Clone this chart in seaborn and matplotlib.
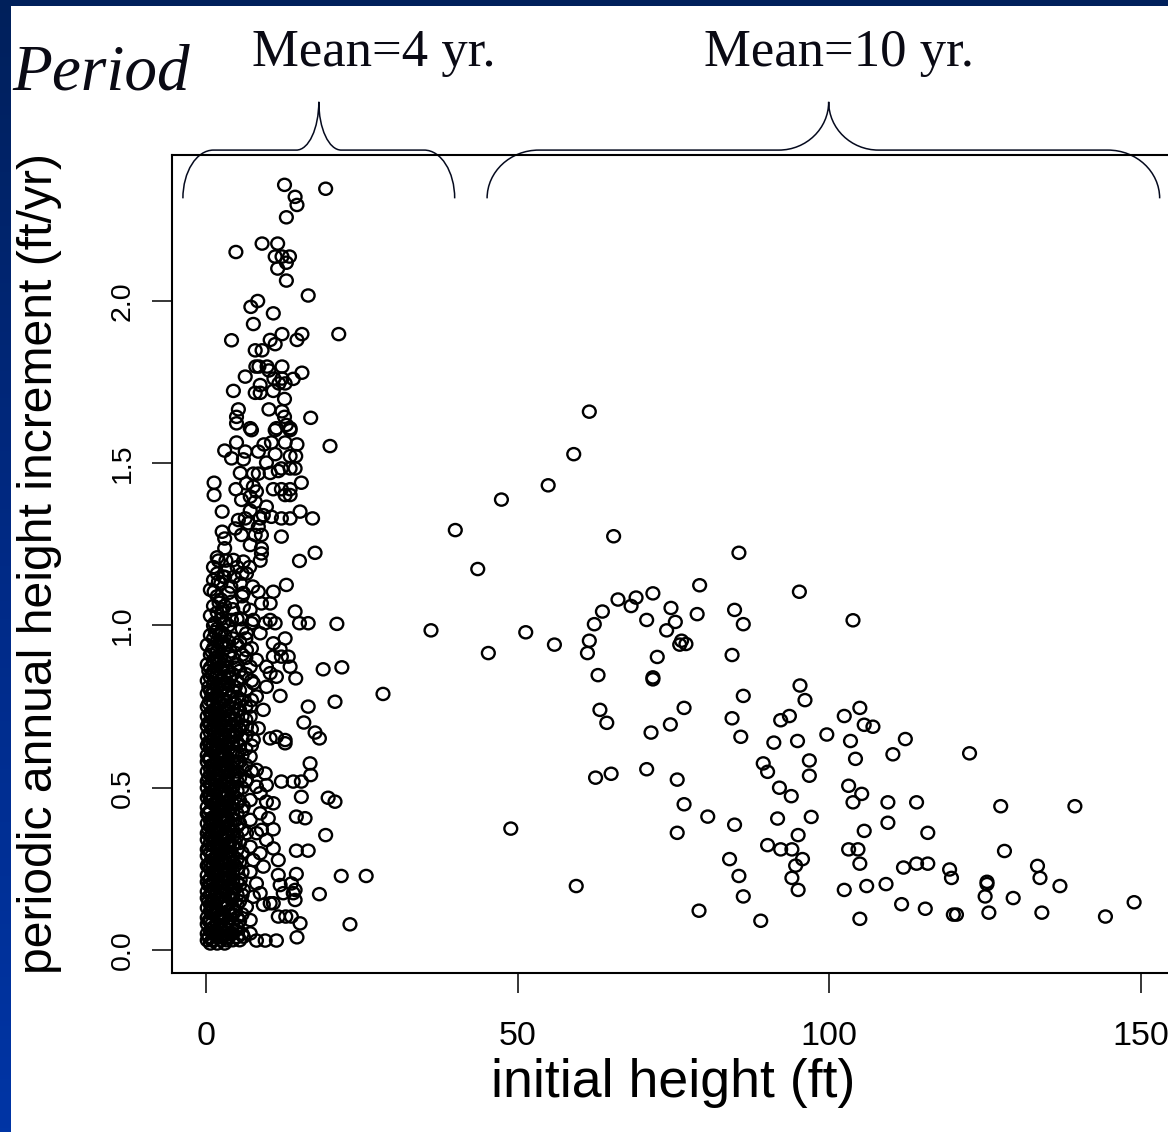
import numpy as np
import pandas as pd
import matplotlib
matplotlib.use("Agg")
import matplotlib.pyplot as plt
import matplotlib.transforms as mtransforms
import seaborn as sns
from matplotlib.path import Path
from matplotlib.patches import PathPatch, Rectangle
from matplotlib.markers import MarkerStyle
from matplotlib.colors import LinearSegmentedColormap

# 1. DATA
# dense core of the 4-yr period trees: one list of increments per height column
core_heights = [0.2, 0.45, 0.7, 0.95, 1.2, 1.5, 1.8, 2.1, 2.4, 2.7, 3.0, 3.3, 3.6, 3.9, 4.3,
                4.7, 5.0, 5.4, 5.8, 6.4, 7.3]
core_increments = [
    [0.03, 0.05, 0.08, 0.10, 0.13, 0.16, 0.18, 0.21, 0.23, 0.26, 0.29, 0.31, 0.34, 0.36, 0.39, 0.42,
     0.44, 0.47, 0.50, 0.52, 0.55, 0.58, 0.60, 0.63, 0.66, 0.69, 0.72, 0.75, 0.79, 0.83, 0.88, 0.94],
    [0.04, 0.09, 0.15, 0.20, 0.26, 0.31, 0.37, 0.42, 0.48, 0.53, 0.59, 0.64, 0.70, 0.76, 0.81, 0.86],
    [0.02, 0.06, 0.09, 0.12, 0.14, 0.17, 0.20, 0.22, 0.25, 0.27, 0.30, 0.33, 0.35, 0.38, 0.40, 0.43,
     0.46, 0.48, 0.51, 0.54, 0.56, 0.59, 0.62, 0.64, 0.67, 0.70, 0.73, 0.77, 0.80, 0.84, 0.87, 0.91,
     0.97, 1.03, 1.11],
    [0.03, 0.08, 0.13, 0.18, 0.24, 0.29, 0.35, 0.40, 0.46, 0.51, 0.57, 0.62, 0.68, 0.73, 0.79, 0.85,
     0.92],
    [0.03, 0.05, 0.07, 0.11, 0.13, 0.15, 0.19, 0.21, 0.24, 0.26, 0.28, 0.32, 0.34, 0.37, 0.39, 0.41,
     0.45, 0.47, 0.49, 0.53, 0.55, 0.57, 0.61, 0.63, 0.65, 0.68, 0.71, 0.74, 0.76, 0.79, 0.82, 0.86,
     0.89, 0.93, 0.96, 1.00, 1.06, 1.14, 1.18],
    [0.06, 0.12, 0.17, 0.23, 0.28, 0.34, 0.40, 0.45, 0.51, 0.56, 0.62, 0.67, 0.73, 0.78, 0.84, 0.90,
     0.98],
    [0.02, 0.04, 0.08, 0.10, 0.12, 0.16, 0.18, 0.20, 0.23, 0.25, 0.29, 0.31, 0.33, 0.36, 0.38, 0.42,
     0.44, 0.46, 0.50, 0.52, 0.54, 0.58, 0.60, 0.62, 0.66, 0.69, 0.72, 0.75, 0.78, 0.81, 0.85, 0.88,
     0.92, 0.95, 0.99, 1.04, 1.09, 1.16, 1.21],
    [0.05, 0.10, 0.16, 0.21, 0.26, 0.32, 0.37, 0.43, 0.48, 0.54, 0.59, 0.65, 0.70, 0.76, 0.82, 0.89,
     0.97, 1.07],
    [0.03, 0.06, 0.09, 0.11, 0.14, 0.17, 0.19, 0.22, 0.24, 0.27, 0.30, 0.32, 0.35, 0.37, 0.40, 0.43,
     0.45, 0.48, 0.51, 0.53, 0.56, 0.59, 0.61, 0.64, 0.67, 0.70, 0.73, 0.76, 0.80, 0.83, 0.87, 0.90,
     0.94, 0.98, 1.02, 1.08, 1.13],
    [0.04, 0.10, 0.15, 0.21, 0.27, 0.32, 0.38, 0.44, 0.49, 0.55, 0.60, 0.66, 0.71, 0.77, 0.82, 0.88,
     0.95, 1.05],
    [0.02, 0.05, 0.07, 0.10, 0.13, 0.15, 0.18, 0.21, 0.23, 0.26, 0.28, 0.31, 0.34, 0.36, 0.39, 0.41,
     0.44, 0.47, 0.49, 0.52, 0.55, 0.57, 0.60, 0.63, 0.65, 0.68, 0.71, 0.74, 0.77, 0.81, 0.84, 0.89,
     0.93, 0.97, 1.01, 1.06, 1.15],
    [0.03, 0.08, 0.14, 0.19, 0.25, 0.30, 0.36, 0.41, 0.47, 0.52, 0.58, 0.63, 0.69, 0.74, 0.80, 0.87,
     0.94],
    [0.04, 0.06, 0.09, 0.12, 0.14, 0.17, 0.20, 0.22, 0.25, 0.28, 0.30, 0.33, 0.35, 0.38, 0.40, 0.43,
     0.46, 0.48, 0.51, 0.54, 0.56, 0.59, 0.62, 0.64, 0.67, 0.70, 0.72, 0.75, 0.79, 0.82, 0.86, 0.91,
     0.95, 1.00, 1.10],
    [0.05, 0.11, 0.16, 0.22, 0.27, 0.33, 0.39, 0.44, 0.50, 0.55, 0.61, 0.66, 0.72, 0.78, 0.84, 0.92],
    [0.03, 0.05, 0.08, 0.11, 0.13, 0.16, 0.19, 0.21, 0.24, 0.27, 0.29, 0.32, 0.35, 0.37, 0.40, 0.42,
     0.45, 0.48, 0.50, 0.53, 0.56, 0.58, 0.61, 0.64, 0.66, 0.69, 0.73, 0.76, 0.80, 0.85, 0.90, 0.96,
     1.05],
    [0.06, 0.12, 0.19, 0.26, 0.33, 0.40, 0.47, 0.54, 0.60, 0.66, 0.71, 0.76, 0.81, 0.87],
    [0.04, 0.07, 0.10, 0.14, 0.17, 0.21, 0.25, 0.28, 0.31, 0.35, 0.38, 0.42, 0.45, 0.49, 0.52, 0.55,
     0.58, 0.61, 0.64, 0.67, 0.70, 0.74, 0.78, 0.83, 0.88, 0.94, 1.02],
    [0.03, 0.09, 0.15, 0.20, 0.27, 0.33, 0.39, 0.46, 0.53, 0.58, 0.63, 0.68, 0.74, 0.80, 0.86, 0.95],
    [0.05, 0.11, 0.17, 0.24, 0.30, 0.37, 0.43, 0.50, 0.56, 0.60, 0.65, 0.69, 0.72, 0.77, 0.84, 0.91,
     0.99, 1.09],
    [0.52, 0.57, 0.62, 0.66, 0.71, 0.75, 0.80, 0.85, 0.90, 0.96],
    [0.55, 0.63, 0.68, 0.77, 0.83, 0.93],
]

# scattered 4-yr period trees (initial height ft, increment ft/yr)
small_trees = [
    (12.6, 2.358), (19.2, 2.346), (14.3, 2.321), (14.6, 2.296), (12.9, 2.258), (9.0, 2.177),
    (11.5, 2.177), (4.8, 2.151), (11.1, 2.137), (12.2, 2.137), (13.4, 2.137), (12.9, 2.118),
    (11.5, 2.100), (12.9, 2.063), (16.4, 2.017), (8.3, 2.000), (7.2, 1.982), (10.8, 1.962),
    (7.6, 1.929), (4.1, 1.879), (10.3, 1.880), (11.1, 1.867), (12.2, 1.898), (15.4, 1.898),
    (14.6, 1.880), (21.3, 1.898), (7.9, 1.848), (9.0, 1.848), (8.0, 1.798), (8.5, 1.798),
    (9.8, 1.798), (12.2, 1.798), (6.3, 1.767), (10.1, 1.786), (10.9, 1.761), (12.2, 1.761),
    (14.0, 1.760), (15.4, 1.779), (11.7, 1.746), (12.7, 1.746), (4.4, 1.723), (7.9, 1.717),
    (8.7, 1.717), (8.7, 1.741), (10.8, 1.723), (12.6, 1.698), (5.2, 1.666), (10.1, 1.666),
    (12.2, 1.660), (4.9, 1.643), (12.6, 1.643), (16.8, 1.640), (4.9, 1.623), (7.1, 1.608),
    (11.3, 1.608), (12.9, 1.618), (13.5, 1.608), (7.3, 1.602), (11.1, 1.602), (13.5, 1.602),
    (4.9, 1.564), (9.3, 1.558), (10.5, 1.564), (12.7, 1.564), (14.6, 1.558), (19.9, 1.553),
    (3.0, 1.539), (6.3, 1.536), (8.4, 1.536), (11.1, 1.528), (13.5, 1.522), (14.4, 1.522),
    (4.1, 1.515), (6.0, 1.512), (9.7, 1.502), (12.1, 1.484), (13.5, 1.484), (14.3, 1.484),
    (5.5, 1.470), (7.6, 1.468), (8.4, 1.468), (10.3, 1.470), (11.6, 1.476), (1.3, 1.440),
    (6.5, 1.438), (7.6, 1.428), (15.3, 1.440), (1.3, 1.402), (4.8, 1.420), (8.1, 1.413),
    (7.1, 1.397), (10.8, 1.420), (12.1, 1.420), (13.5, 1.420), (12.7, 1.402), (13.5, 1.402),
    (5.7, 1.387), (7.9, 1.381), (9.7, 1.366), (2.6, 1.351), (7.1, 1.354), (10.5, 1.335),
    (12.1, 1.330), (13.5, 1.330), (15.1, 1.351), (17.1, 1.330), (5.2, 1.325), (6.3, 1.330),
    (8.7, 1.330), (9.2, 1.340), (4.7, 1.299), (6.8, 1.315), (8.4, 1.304), (2.6, 1.289),
    (3.0, 1.268), (5.7, 1.279), (7.9, 1.279), (8.9, 1.279), (12.1, 1.274), (3.0, 1.238),
    (7.1, 1.248), (8.9, 1.238), (8.9, 1.222), (17.5, 1.224), (2.0, 1.200), (4.4, 1.202),
    (6.0, 1.197), (8.7, 1.200), (15.0, 1.199), (3.5, 1.17), (4.5, 1.15), (5.5, 1.13),
    (6.5, 1.16), (7.5, 1.12), (4.0, 1.12), (6.0, 1.10), (5.0, 1.18), (7.0, 1.18), (3.2, 1.20),
    (5.8, 1.16), (2.8, 1.15), (12.9, 1.125), (10.8, 1.104), (1.3, 1.104), (2.0, 1.135),
    (8.4, 1.104), (4.1, 1.073), (6.0, 1.058), (8.9, 1.068), (10.3, 1.068), (14.3, 1.043),
    (2.5, 1.040), (1.4, 1.007), (2.8, 1.007), (4.1, 1.017), (5.7, 1.019), (7.3, 1.007),
    (9.5, 1.007), (11.1, 1.007), (15.0, 1.007), (16.4, 1.007), (21.0, 1.005), (12.7, 0.960),
    (11.9, 0.927), (10.8, 0.904), (12.1, 0.904), (13.2, 0.904), (1.8, 0.902), (13.5, 0.873),
    (18.8, 0.865), (21.8, 0.871), (14.4, 0.837), (28.4, 0.789), (11.9, 0.783), (20.7, 0.765),
    (16.4, 0.750), (15.7, 0.701), (17.5, 0.670), (18.2, 0.652), (12.7, 0.647), (12.7, 0.637),
    (16.7, 0.575), (16.8, 0.539), (19.6, 0.469), (20.7, 0.457), (19.2, 0.354), (21.7, 0.228),
    (25.7, 0.228), (23.1, 0.079), (18.2, 0.172), (14.5, 0.306), (16.4, 0.306), (14.5, 0.234),
    (13.7, 0.205), (14.3, 0.185), (14.3, 0.154), (11.6, 0.103), (12.8, 0.103), (13.7, 0.103),
    (15.1, 0.082), (14.6, 0.039), (11.3, 0.029), (8.1, 0.029), (9.5, 0.029), (10.0, 0.406),
    (10.8, 0.372), (9.7, 0.339), (10.8, 0.313), (11.6, 0.277), (11.6, 0.231), (11.9, 0.200),
    (12.4, 0.175), (14.0, 0.175), (10.3, 0.144), (9.2, 0.139), (10.8, 0.144), (12.1, 0.519),
    (14.0, 0.519), (15.3, 0.519), (15.3, 0.472), (14.5, 0.411), (15.9, 0.406), (8.7, 0.483),
    (9.7, 0.457), (10.8, 0.452), (8.1, 0.555), (9.5, 0.544), (9.7, 0.508), (10.3, 0.652),
    (11.3, 0.657), (8.4, 0.683), (7.1, 0.719), (8.1, 0.781), (9.7, 0.811), (9.2, 0.740),
    (10.3, 0.853), (11.3, 0.842), (6.5, 0.924), (8.1, 0.894), (9.7, 0.873), (10.3, 1.017),
    (8.7, 0.976), (10.8, 0.945), (6.0, 0.041), (7.1, 0.051), (7.1, 0.092), (6.5, 0.133),
    (7.6, 0.164), (6.0, 0.185), (5.5, 0.216), (7.1, 0.241), (7.6, 0.277), (7.1, 0.318),
    (6.5, 0.360), (8.1, 0.360), (7.1, 0.401), (6.0, 0.442), (7.1, 0.462), (8.1, 0.503),
    (6.5, 0.524), (8.7, 0.421), (8.9, 0.370), (8.7, 0.298), (9.2, 0.257), (8.1, 0.205),
    (8.7, 0.175), (7.1, 0.596), (7.6, 0.647), (6.5, 0.688), (7.1, 0.750), (7.6, 0.822),
    (7.1, 0.873), (6.5, 0.976), (7.6, 1.017), (7.1, 1.048),
]

# 10-yr period trees
large_trees = [
    (61.5, 1.659), (59.0, 1.528), (54.9, 1.432), (47.4, 1.388), (40.0, 1.294), (65.4, 1.275),
    (43.6, 1.174), (85.5, 1.224), (79.2, 1.124), (95.2, 1.104), (71.7, 1.099), (69.0, 1.086),
    (66.1, 1.080), (68.2, 1.060), (74.6, 1.054), (63.6, 1.043), (78.8, 1.035), (84.8, 1.048),
    (70.7, 1.017), (75.3, 1.011), (86.2, 1.004), (62.3, 1.004), (73.9, 0.985), (36.1, 0.985),
    (51.3, 0.979), (61.5, 0.953), (76.3, 0.953), (77.0, 0.943), (76.0, 0.941), (55.9, 0.941),
    (45.3, 0.915), (61.2, 0.915), (84.4, 0.909), (72.4, 0.903), (62.9, 0.847), (71.7, 0.840),
    (71.7, 0.834), (95.3, 0.815), (103.8, 1.016), (96.1, 0.770), (86.2, 0.783), (63.2, 0.740),
    (64.3, 0.700), (76.7, 0.746), (74.5, 0.695), (71.4, 0.670), (84.4, 0.714), (93.6, 0.721),
    (92.2, 0.708), (85.8, 0.657), (91.1, 0.639), (94.9, 0.644), (89.4, 0.575), (90.1, 0.549),
    (62.5, 0.531), (65.0, 0.543), (70.7, 0.557), (75.6, 0.525), (92.0, 0.500), (93.9, 0.474),
    (76.7, 0.449), (80.5, 0.411), (84.8, 0.386), (91.7, 0.405), (75.6, 0.361), (48.9, 0.374),
    (95.0, 0.354), (90.1, 0.323), (92.2, 0.310), (94.0, 0.310), (95.7, 0.280), (84.0, 0.280),
    (94.6, 0.260), (85.5, 0.228), (94.0, 0.222), (95.0, 0.185), (59.4, 0.197), (86.2, 0.165),
    (79.1, 0.121), (89.0, 0.090), (104.9, 0.746), (102.4, 0.721), (105.6, 0.694), (107.0, 0.688),
    (99.6, 0.664), (103.4, 0.644), (112.2, 0.650), (122.5, 0.606), (96.8, 0.584), (104.2, 0.589),
    (110.2, 0.603), (96.8, 0.537), (103.1, 0.506), (105.2, 0.481), (103.8, 0.455), (109.4, 0.455),
    (114.0, 0.455), (127.5, 0.443), (139.4, 0.443), (97.1, 0.410), (109.4, 0.392), (105.6, 0.367),
    (115.8, 0.361), (103.1, 0.310), (104.6, 0.310), (104.9, 0.266), (111.9, 0.254), (114.0, 0.266),
    (115.8, 0.266), (119.3, 0.248), (119.6, 0.222), (125.3, 0.210), (125.3, 0.203), (125.0, 0.165),
    (128.1, 0.305), (133.4, 0.259), (133.8, 0.222), (137.0, 0.197), (129.5, 0.160), (134.1, 0.115),
    (144.3, 0.103), (148.9, 0.147), (125.6, 0.115), (119.9, 0.109), (120.4, 0.109), (115.4, 0.127),
    (111.6, 0.141), (106.0, 0.197), (109.1, 0.203), (102.4, 0.185), (104.9, 0.096),
]

x_ticks = [0, 50, 100, 150]
y_ticks = [0.0, 0.5, 1.0, 1.5, 2.0]
y_tick_labels = ["0.0", "0.5", "1.0", "1.5", "2.0"]
period_labels = ["Mean=4 yr.", "Mean=10 yr."]

W, H = 1168, 1132


def build_frame():
    rows = []
    for h, incs in zip(core_heights, core_increments):
        rows += [(h, v) for v in incs]
    rows += small_trees + large_trees
    return pd.DataFrame(rows, columns=["height", "increment"])


def draw_brace(ax, x0, x1, xm, r_end, r_mid):
    # x in data units, y in axes fraction
    trans = mtransforms.blended_transform_factory(ax.transData, ax.transAxes)
    yb, yh, yt = 0.947, 1.006, 1.065
    k = 0.5523
    h, ht = yh - yb, yt - yh
    verts = [
        (x0, yb),
        (x0, yb + k * h), (x0 + r_end - k * r_end, yh), (x0 + r_end, yh),
        (xm - r_mid, yh),
        (xm - r_mid + k * r_mid, yh), (xm, yt - k * ht), (xm, yt),
        (xm, yt - k * ht), (xm + r_mid - k * r_mid, yh), (xm + r_mid, yh),
        (x1 - r_end, yh),
        (x1 - r_end + k * r_end, yh), (x1, yb + k * h), (x1, yb),
    ]
    codes = [Path.MOVETO, Path.CURVE4, Path.CURVE4, Path.CURVE4, Path.LINETO,
             Path.CURVE4, Path.CURVE4, Path.CURVE4, Path.CURVE4, Path.CURVE4, Path.CURVE4,
             Path.LINETO, Path.CURVE4, Path.CURVE4, Path.CURVE4]
    patch = PathPatch(Path(verts, codes), transform=trans, fill=False,
                      edgecolor="#050a1e", linewidth=1.1, clip_on=False)
    ax.add_patch(patch)


# 2. PLOT
sns.set_theme(style="ticks")
plt.rcParams["font.family"] = ["Liberation Sans", "DejaVu Sans"]
plt.rcParams["text.color"] = "black"
plt.rcParams["axes.labelcolor"] = "black"
plt.rcParams["xtick.color"] = "black"
plt.rcParams["ytick.color"] = "black"

df = build_frame()

fig = plt.figure(figsize=(W / 100, H / 100), dpi=100)
fig.patch.set_facecolor("white")

ax = fig.add_axes([172 / W, 159 / H, 1002 / W, 818 / H])

# R style open circles, a touch wider than tall
circle = Path.unit_circle()
ellipse = Path(circle.vertices * np.array([1.05, 1.0]), circle.codes)
sns.scatterplot(data=df, x="height", y="increment", ax=ax, marker=MarkerStyle(ellipse),
                s=85, color="black", facecolor="none", edgecolor="black", linewidth=1.7)

ax.set_xlim(-5.45, 155.3)
ax.set_ylim(-0.071, 2.45)
ax.set_xticks(x_ticks)
ax.set_xticklabels([str(t) for t in x_ticks])
ax.set_yticks(y_ticks)
ax.set_yticklabels(y_tick_labels, rotation=90, va="center")
ax.tick_params(axis="both", direction="out", length=14.4, width=1.1, color="black",
               labelcolor="black")
ax.tick_params(axis="x", labelsize=24.6, pad=20)
ax.tick_params(axis="y", labelsize=20.5, pad=11.5)
for s in ax.spines.values():
    s.set_visible(True)
    s.set_linewidth(1.5)
    s.set_color("black")

ax.set_xlabel("initial height (ft)", fontsize=38.6, va="baseline", color="black")
ax.xaxis.set_label_coords(0.5, -0.1516)
ax.set_ylabel("periodic annual height increment (ft/yr)", fontsize=34.7, color="black")
ax.yaxis.set_label_coords(-0.1098, 0.5)

# braces over the two measurement periods
draw_brace(ax, -3.7, 39.9, 18.1, 4.9, 3.6)
draw_brace(ax, 45.1, 153.0, 99.9, 8.3, 8.0)

serif = ["Liberation Serif", "DejaVu Serif"]
fig.text(12 / W, 1 - 90 / H, "Period", ha="left", va="baseline", fontsize=47,
         style="italic", family=serif, color="#0a0a14")
fig.text(374 / W, 1 - 66 / H, period_labels[0], ha="center", va="baseline",
         fontsize=38, family=serif, color="#0a0a14")
fig.text(839 / W, 1 - 66 / H, period_labels[1], ha="center", va="baseline",
         fontsize=38, family=serif, color="#0a0a14")

# slide frame: gradient bar on the left, dark strip on top
band = fig.add_axes([0, 0, 11 / W, 1])
band_cmap = LinearSegmentedColormap.from_list("band", ["#00205b", "#002a86", "#0035a5"])
band.imshow(np.linspace(0, 1, 256).reshape(-1, 1), aspect="auto", cmap=band_cmap)
band.axis("off")
fig.patches.append(Rectangle((0, 1 - 6 / H), 1, 6 / H, transform=fig.transFigure,
                             facecolor="#00205b", edgecolor="none"))

fig.savefig("out.png", dpi=100)
